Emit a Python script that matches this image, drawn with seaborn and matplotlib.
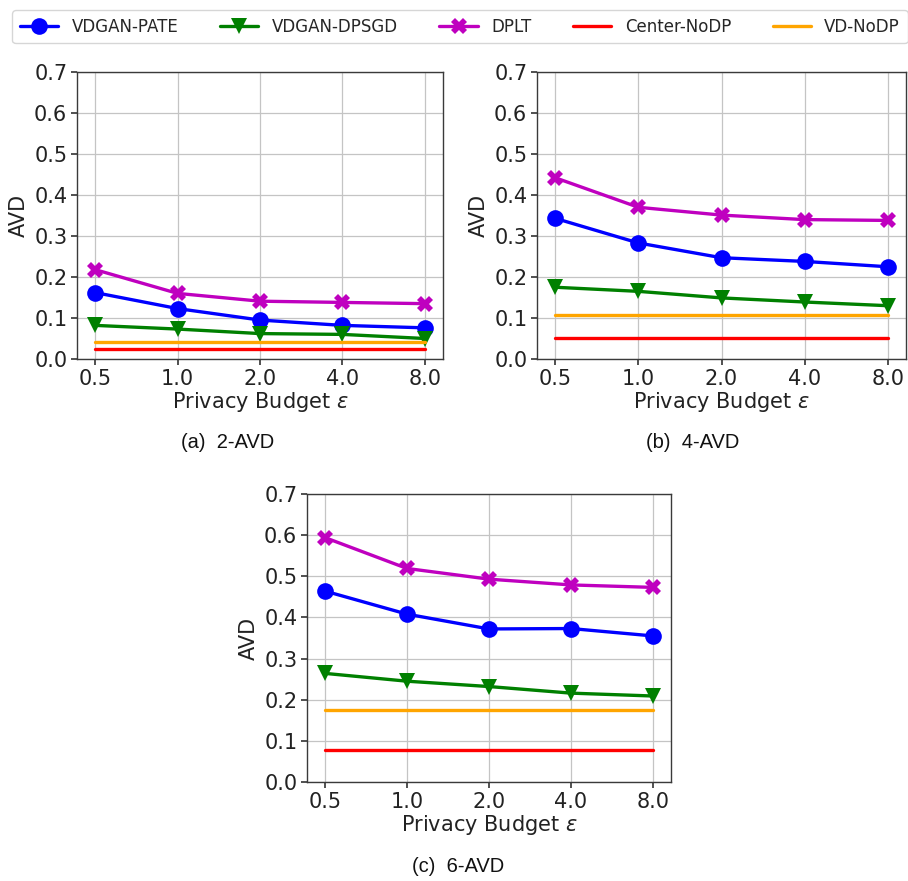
import matplotlib
matplotlib.use("Agg")
import matplotlib.pyplot as plt
import seaborn as sns
import numpy as np
import pandas as pd

# Privacy budgets (categorical x axis)
eps_labels = ["0.5", "1.0", "2.0", "4.0", "8.0"]

# 2-AVD
pate_2 = [0.162, 0.123, 0.095, 0.082, 0.076]
dpsgd_2 = [0.082, 0.073, 0.062, 0.060, 0.050]
dplt_2 = [0.218, 0.160, 0.141, 0.138, 0.135]
center_2 = [0.024] * 5
vd_2 = [0.042] * 5

# 4-AVD
pate_4 = [0.343, 0.283, 0.247, 0.238, 0.225]
dpsgd_4 = [0.175, 0.165, 0.149, 0.139, 0.130]
dplt_4 = [0.442, 0.370, 0.351, 0.340, 0.338]
center_4 = [0.051] * 5
vd_4 = [0.108] * 5

# 6-AVD
pate_6 = [0.464, 0.408, 0.372, 0.373, 0.355]
dpsgd_6 = [0.264, 0.245, 0.232, 0.216, 0.209]
dplt_6 = [0.594, 0.519, 0.493, 0.479, 0.473]
center_6 = [0.078] * 5
vd_6 = [0.174] * 5

methods = ["VDGAN-PATE", "VDGAN-DPSGD", "DPLT", "Center-NoDP", "VD-NoDP"]
colors = {"VDGAN-PATE": "#0000ff", "VDGAN-DPSGD": "#008000", "DPLT": "#bf00bf",
          "Center-NoDP": "#ff0000", "VD-NoDP": "#ffa500"}
markers = {"VDGAN-PATE": "o", "VDGAN-DPSGD": "v", "DPLT": "X",
           "Center-NoDP": None, "VD-NoDP": None}

panels = [
    ("(a)  2-AVD", [pate_2, dpsgd_2, dplt_2, center_2, vd_2]),
    ("(b)  4-AVD", [pate_4, dpsgd_4, dplt_4, center_4, vd_4]),
    ("(c)  6-AVD", [pate_6, dpsgd_6, dplt_6, center_6, vd_6]),
]

sns.set_theme(style="ticks", color_codes=False, rc={
    "axes.grid": True,
    "grid.color": "#c4c4c4",
    "grid.linewidth": 0.9,
    "axes.edgecolor": "#3a3a3a",
    "axes.linewidth": 1.0,
    "xtick.color": "#3a3a3a",
    "ytick.color": "#3a3a3a",
    "xtick.labelcolor": "#222222",
    "ytick.labelcolor": "#222222",
})
plt.rcParams["font.family"] = ["DejaVu Sans"]
plt.rcParams["mathtext.fontset"] = "dejavusans"

fig = plt.figure(figsize=(9.08, 8.81), dpi=100)
rects = [
    [77 / 908, 1 - 359 / 881, 366 / 908, 287 / 881],
    [537 / 908, 1 - 359 / 881, 369 / 908, 287 / 881],
    [307 / 908, 1 - 782 / 881, 364 / 908, 288 / 881],
]
caption_pos = [(228 / 908, 1 - 443 / 881), (693 / 908, 1 - 443 / 881),
               (458 / 908, 1 - 866 / 881)]

pos = np.arange(len(eps_labels))
handles = None
for (caption, series), rect, cpos in zip(panels, rects, caption_pos):
    ax = fig.add_axes(rect)
    df = pd.DataFrame({"pos": np.tile(pos, len(methods)),
                       "AVD": np.concatenate(series),
                       "method": np.repeat(methods, len(pos))})
    for m in methods:
        sub = df[df["method"] == m]
        sns.lineplot(data=sub, x="pos", y="AVD", ax=ax, color=colors[m],
                     marker=markers[m], markersize=12 if markers[m] else 0,
                     markeredgewidth=0, linewidth=2.4, label=m, legend=False)
    ax.set_ylim(0, 0.7)
    ax.set_yticks(np.arange(0, 0.71, 0.1))
    ax.set_yticklabels([f"{v:.1f}" for v in np.arange(0, 0.71, 0.1)])
    ax.set_xticks(pos)
    ax.set_xticklabels(eps_labels)
    ax.set_xlim(-0.22, len(pos) - 1 + 0.22)
    ax.tick_params(axis="both", labelsize=15, length=4, pad=3)
    ax.set_xlabel(r"Privacy Budget $\epsilon$", fontsize=15, labelpad=1,
                  color="#222222")
    ax.set_ylabel("AVD", fontsize=15, labelpad=4, color="#222222")
    for s in ax.spines.values():
        s.set_visible(True)
    fig.text(cpos[0], cpos[1], caption, ha="center", va="center",
             fontsize=14.5, family="Liberation Sans", color="#111111")
    handles = ax.get_lines()

leg_handles = handles[:len(methods)]
leg = fig.legend(leg_handles, methods, loc="upper center",
                 bbox_to_anchor=(460 / 908, 1 - 2 / 881), ncol=5,
                 fontsize=12, frameon=True, fancybox=True,
                 columnspacing=2.5, handlelength=2.3, borderpad=0.45,
                 handletextpad=0.8)
leg.get_frame().set_edgecolor("#cccccc")
leg.get_frame().set_linewidth(1.0)

fig.savefig("out.png", dpi=100)
